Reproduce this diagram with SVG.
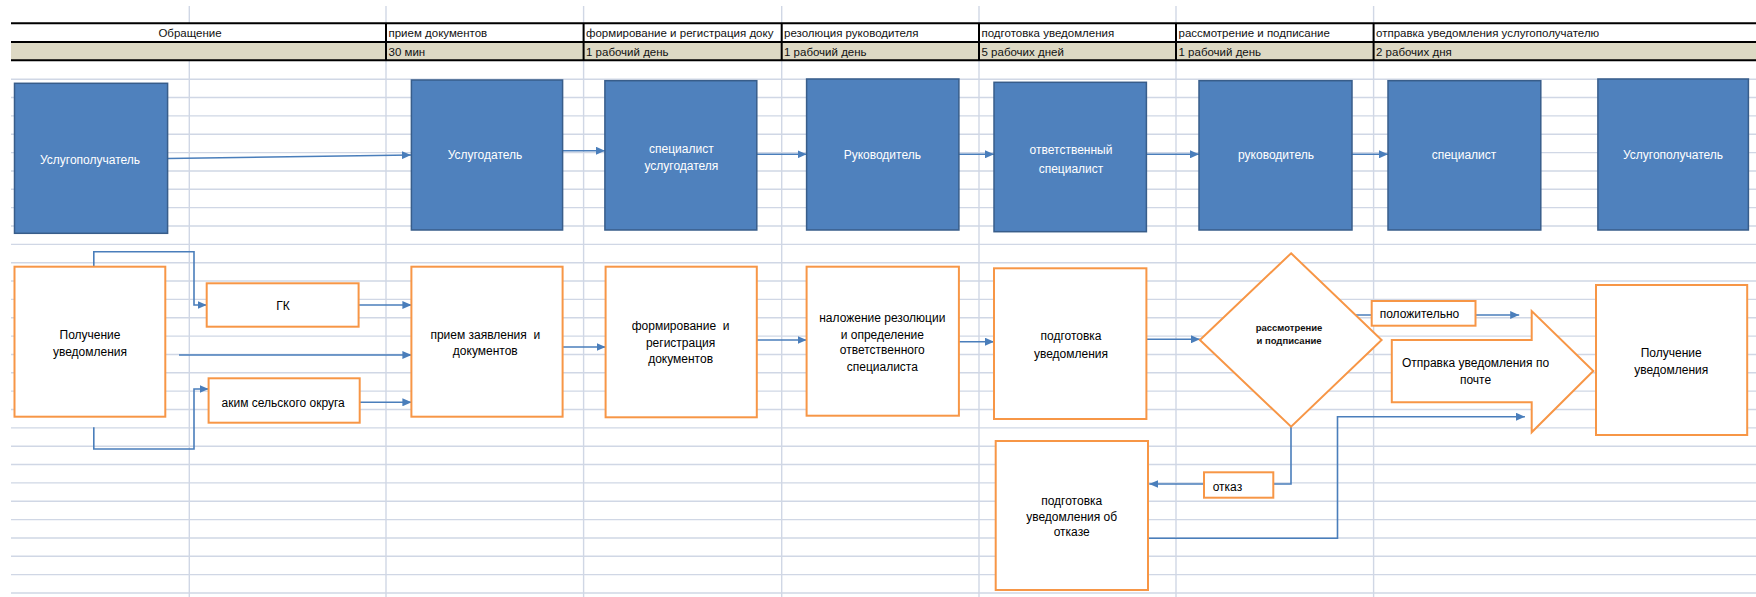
<svg xmlns="http://www.w3.org/2000/svg" width="1756" height="597" viewBox="0 0 1756 597">
<defs>
<style>
.grid{stroke:#D0D7E5;stroke-width:1.4;fill:none}
.hdr{stroke:#000;stroke-width:2;fill:none}
.ht{font-family:"Liberation Sans",Arial,sans-serif;font-size:11.5px;fill:#111}
.blue{fill:#4F81BD;stroke:#385D8A;stroke-width:1.5}
.wt{font-family:"Liberation Sans",Arial,sans-serif;font-size:12px;fill:#fff;text-anchor:middle}
.org{fill:#fff;stroke:#F79646;stroke-width:2}
.bt{font-family:"Liberation Sans",Arial,sans-serif;font-size:12px;fill:#000;text-anchor:middle;white-space:pre}
.lt{font-family:"Liberation Sans",Arial,sans-serif;font-size:12px;fill:#000;text-anchor:start}
.st{font-family:"Liberation Sans",Arial,sans-serif;font-size:9.5px;font-weight:bold;fill:#111;text-anchor:middle}
.con{stroke:#4A7EBB;stroke-width:1.6;fill:none}
.arr{marker-end:url(#ah)}
</style>
<marker id="ah" markerUnits="userSpaceOnUse" markerWidth="9" markerHeight="8" refX="9" refY="4" orient="auto">
<path d="M0,0 L9,4 L0,8 Z" fill="#4A7EBB"/>
</marker>
<clipPath id="c3"><rect x="583" y="23" width="198" height="38"/></clipPath>
</defs>
<rect width="1756" height="597" fill="#fff"/>
<g id="grid">
<path class="grid" d="M11,79.2H1756 M11,97.55H1756 M11,115.9H1756 M11,134.25H1756 M11,152.6H1756 M11,170.95H1756 M11,189.3H1756 M11,207.65H1756 M11,226H1756 M11,244.35H1756 M11,262.7H1756 M11,281.05H1756 M11,299.4H1756 M11,317.75H1756 M11,336.1H1756 M11,354.45H1756 M11,372.8H1756 M11,391.15H1756 M11,409.5H1756 M11,427.85H1756 M11,446.2H1756 M11,464.55H1756 M11,482.9H1756 M11,501.25H1756 M11,519.6H1756 M11,537.95H1756 M11,556.3H1756 M11,574.65H1756 M11,593H1756 M189.3,6V597 M386,6V597 M583.6,6V597 M781.7,6V597 M979,6V597 M1176,6V597 M1373.6,6V597"/>
</g>
<g id="header">
<rect x="11" y="23.3" width="1745" height="18.7" fill="#fff"/>
<rect x="11" y="42" width="1745" height="18.3" fill="#DDD9C4"/>
<path class="hdr" d="M11,23.3H1756 M11,42H1756 M11,60.3H1756 M386,23.3V60.3 M583.6,23.3V60.3 M781.7,23.3V60.3 M979,23.3V60.3 M1176,23.3V60.3 M1373.6,23.3V60.3"/>
<text class="ht" x="190" y="37.3" text-anchor="middle">Обращение</text>
<text class="ht" x="388.5" y="37.3">прием документов</text>
<text class="ht" x="388.5" y="55.8">30 мин</text>
<text class="ht" x="586" y="37.3" clip-path="url(#c3)">формирование и регистрация доку</text>
<text class="ht" x="586" y="55.8">1 рабочий день</text>
<text class="ht" x="784" y="37.3">резолюция руководителя</text>
<text class="ht" x="784" y="55.8">1 рабочий день</text>
<text class="ht" x="981.5" y="37.3">подготовка уведомления</text>
<text class="ht" x="981.5" y="55.8">5 рабочих дней</text>
<text class="ht" x="1178.5" y="37.3">рассмотрение и подписание</text>
<text class="ht" x="1178.5" y="55.8">1 рабочий день</text>
<text class="ht" x="1376" y="37.3">отправка уведомления услугополучателю</text>
<text class="ht" x="1376" y="55.8">2 рабочих дня</text>
</g>
<g id="connectors">
<path class="con arr" d="M167.6,158.5 L411,155"/>
<path class="con arr" d="M562.6,150.7 H604.9"/>
<path class="con arr" d="M756.8,154.3 H806.6"/>
<path class="con arr" d="M958.9,154.3 H994"/>
<path class="con arr" d="M1146.4,154.3 H1199"/>
<path class="con arr" d="M1352,154.3 H1388"/>
<path class="con arr" d="M93.8,266.7 V251.7 H194 V305 H206.7"/>
<path class="con arr" d="M358.6,305 H411.4"/>
<path class="con arr" d="M179,355 H411.4"/>
<path class="con arr" d="M93.8,427.3 V449 H194 V389 H208.6"/>
<path class="con arr" d="M359.7,402.3 H411.4"/>
<path class="con arr" d="M551,347 H605.6"/>
<path class="con arr" d="M753,340 H806.6"/>
<path class="con arr" d="M939,341.7 H994"/>
<path class="con arr" d="M1146.4,339.3 H1199.9"/>
<path class="con arr" d="M1355.7,315 H1519.2"/>
<path class="con arr" d="M1291,426.7 V484 H1149.3"/>
<path class="con arr" d="M1148,538.3 H1337.5 V416.7 H1524.9"/>
</g>
<g id="n-usp1"><rect class="blue" x="14.5" y="83.3" width="153.1" height="150"/><text class="wt" x="90" y="163.5">Услугополучатель</text></g>
<g id="n-usd"><rect class="blue" x="411.4" y="80" width="151.2" height="150"/><text class="wt" x="485" y="159.3">Услугодатель</text></g>
<g id="n-spec-usd"><rect class="blue" x="604.9" y="80.7" width="151.9" height="149.3"/><text class="wt" x="681.4" y="152.6">специалист</text><text class="wt" x="681.4" y="170.3">услугодателя</text></g>
<g id="n-ruk1"><rect class="blue" x="806.6" y="79" width="152.3" height="151"/><text class="wt" x="882.3" y="159.3">Руководитель</text></g>
<g id="n-otv"><rect class="blue" x="994" y="82.3" width="152.4" height="149.4"/><text class="wt" x="1071" y="154.3">ответственный</text><text class="wt" x="1071" y="172.6">специалист</text></g>
<g id="n-ruk2"><rect class="blue" x="1199" y="80.7" width="153" height="149.3"/><text class="wt" x="1276" y="159.3">руководитель</text></g>
<g id="n-spec"><rect class="blue" x="1388" y="80.7" width="152.8" height="149.3"/><text class="wt" x="1464" y="159.3">специалист</text></g>
<g id="n-usp2"><rect class="blue" x="1597.9" y="79" width="150.5" height="151"/><text class="wt" x="1673" y="159.3">Услугополучатель</text></g>
<g id="n-poluch1"><rect class="org" x="14.5" y="266.7" width="150.8" height="150"/><text class="bt" x="90" y="338.6">Получение</text><text class="bt" x="90" y="356">уведомления</text></g>
<g id="n-gk"><rect class="org" x="206.7" y="283.3" width="151.9" height="43.4"/><text class="bt" x="283" y="310">ГК</text></g>
<g id="n-akim"><rect class="org" x="208.6" y="378.3" width="151.1" height="44.4"/><text class="bt" x="283.2" y="406.6">аким сельского округа</text></g>
<g id="n-priem"><rect class="org" x="411.4" y="266.7" width="151.2" height="150"/><text class="bt" x="485.3" y="338.6">прием заявления  и</text><text class="bt" x="485.3" y="355.3">документов</text></g>
<g id="n-form"><rect class="org" x="605.6" y="266.7" width="151.2" height="150.6"/><text class="bt" x="680.6" y="330.3">формирование  и</text><text class="bt" x="680.6" y="347">регистрация</text><text class="bt" x="680.6" y="362.6">документов</text></g>
<g id="n-rez"><rect class="org" x="806.6" y="266.7" width="152.3" height="149"/><text class="bt" x="882.3" y="322">наложение резолюции</text><text class="bt" x="882.3" y="338.6">и определение</text><text class="bt" x="882.3" y="354.3">ответственного</text><text class="bt" x="882.3" y="371">специалиста</text></g>
<g id="n-podg"><rect class="org" x="994" y="268.3" width="152.4" height="150.7"/><text class="bt" x="1071" y="340.3">подготовка</text><text class="bt" x="1071" y="357.6">уведомления</text></g>
<g id="n-rassm"><polygon class="org" points="1291.1,253.3 1381.6,340 1291.1,426.7 1199.9,340"/><text class="st" x="1289" y="330.8">рассмотрение</text><text class="st" x="1289" y="343.5">и подписание</text></g>
<g id="n-polozh"><rect class="org" x="1371.7" y="301" width="103.8" height="24.7"/><text class="lt" x="1379.7" y="318.3">положительно</text></g>
<g id="n-otpr"><polygon class="org" points="1391.8,340 1531.7,340 1531.7,311 1593.3,371 1531.7,432.3 1531.7,402.3 1391.8,402.3"/><text class="bt" x="1475.5" y="366.6">Отправка уведомления по</text><text class="bt" x="1475.5" y="384.3">почте</text></g>
<g id="n-poluch2"><rect class="org" x="1596" y="285" width="151.2" height="150"/><text class="bt" x="1671.2" y="357">Получение</text><text class="bt" x="1671.2" y="374.3">уведомления</text></g>
<g id="n-otkaz-podg"><rect class="org" x="995.7" y="441" width="152.3" height="149"/><text class="bt" x="1071.7" y="505">подготовка</text><text class="bt" x="1071.7" y="521">уведомления об</text><text class="bt" x="1071.7" y="536">отказе</text></g>
<g id="n-otkaz"><rect class="org" x="1204" y="472.3" width="69.3" height="25.4"/><text class="lt" x="1212.7" y="491">отказ</text></g>
</svg>
